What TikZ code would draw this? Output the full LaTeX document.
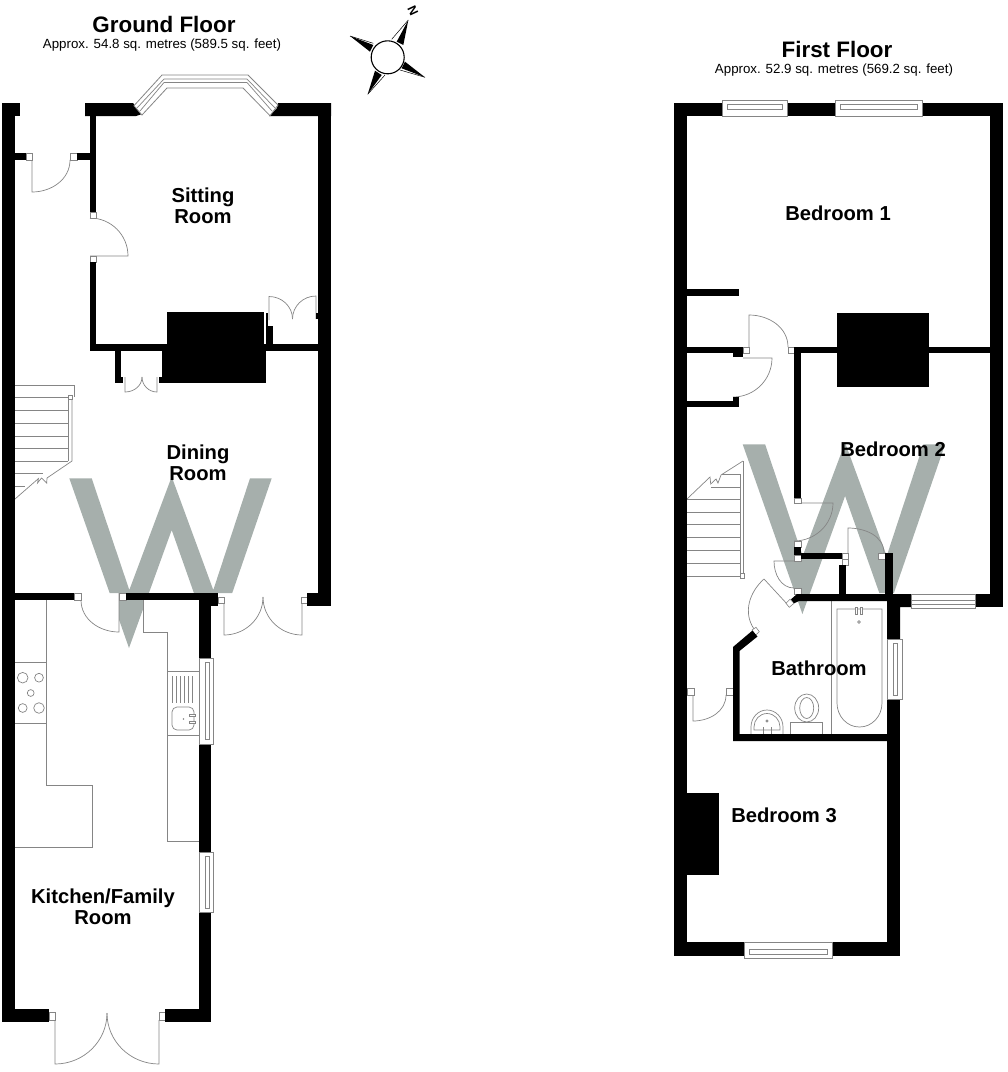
\documentclass[tikz,border=0pt]{standalone}
\usepackage{tikz}
\usepackage{xcolor}
\usepackage{fontspec}
\setmainfont{Liberation Sans}
\definecolor{markcolor}{HTML}{a6afac}
\definecolor{linecolor}{HTML}{858585}
\tikzset{
    wall/.style = {fill = black},
    fitting/.style = {draw = linecolor, line width = 0.7pt},
    jamb/.style = {draw = linecolor, fill = white, line width = 0.6pt},
    glass/.style = {draw = linecolor, fill = white, line width = 0.8pt},
    room/.style = {font = \bfseries\fontsize{20.2}{21}\selectfont, align = center},
    floorname/.style = {font = \bfseries\fontsize{22.4}{24}\selectfont},
    floorarea/.style = {font = \fontsize{13.3}{15}\selectfont}
}

\begin{document}
\begin{tikzpicture}[x = 1pt, y = -1pt]

        \useasboundingbox (0, 0) rectangle (1008, 1072);

        % Watermark
        \begin{scope}
            \clip (0, 0) rectangle (1008, 593) (119, 593) rectangle (143, 660);
            \fill [markcolor] (69.3, 478.3) -- (91.7, 478.3) -- (129.3, 590) -- (171.7, 476.7) -- (213.3, 590) -- (250, 478.3) -- (271.7, 478.3) -- (213.3, 648) -- (171.7, 530) -- (129, 648) -- cycle;
        \end{scope}
        \begin{scope}
            \clip (0, 0) rectangle (1008, 593) (790, 593) rectangle (815, 660);
            \fill [markcolor] (742.7, 444.3) -- (765.1, 444.3) -- (802.7, 556) -- (845.1, 442.7) -- (886.7, 556) -- (923.4, 444.3) -- (945.1, 444.3) -- (886.7, 614) -- (845.1, 496) -- (802.4, 614) -- cycle;
        \end{scope}

        % Ground Floor fittings
        \draw [fitting] (15, 385) -- (74, 385) -- (74, 397);
        \draw [fitting] (15, 397) -- (68, 397);
        \draw [fitting] (15, 410) -- (68, 410);
        \draw [fitting] (15, 423) -- (68, 423);
        \draw [fitting] (15, 436) -- (68, 436);
        \draw [fitting] (15, 448) -- (68, 448);
        \draw [fitting] (15, 461) -- (68, 461);
        \draw [fitting] (15, 473) -- (43, 473);
        \draw [fitting] (15, 486) -- (25, 486);
        \draw [fitting] (68, 397) -- (68, 461);
        \draw [fitting] (72, 397) -- (72, 461) -- (47, 478) -- (46.7, 483) -- (41.5, 478) -- (37.5, 483) -- (38.5, 478.5) -- (15, 499);
        \draw [jamb] (68, 395) rectangle (72, 399);

        \draw [fitting] (46.5, 600) -- (46.5, 785) -- (92, 785) -- (92, 847) -- (15, 847);
        \draw [fitting] (15, 662) -- (46.5, 662);
        \draw [fitting] (15, 723) -- (46.5, 723);
        \draw [fitting] (22.7, 677.7) circle [radius = 5.3pt];
        \draw [fitting] (39, 677.7) circle [radius = 4.4pt];
        \draw [fitting] (30.7, 693) circle [radius = 3.4pt];
        \draw [fitting] (22.7, 708) circle [radius = 4.4pt];
        \draw [fitting] (39, 708) circle [radius = 5.3pt];

        \draw [fitting] (143, 600) -- (143, 632) -- (167, 632) -- (167, 841) -- (199, 841);
        \draw [fitting] (167, 671) -- (199, 671);
        \draw [fitting] (167, 735) -- (199, 735);
        \draw [fitting] (172, 676) -- (172, 703);
        \draw [fitting] (176, 676) -- (176, 703);
        \draw [fitting] (180, 676) -- (180, 703);
        \draw [fitting] (184, 676) -- (184, 703);
        \draw [fitting] (188, 676) -- (188, 703);
        \draw [fitting] (192, 676) -- (192, 703);
        \draw [fitting, rounded corners = 5pt] (172, 707) rectangle (194, 730);
        \draw [jamb] (189, 714) rectangle (195, 716.5);
        \draw [jamb] (189, 721) rectangle (195, 723.5);
        \fill [linecolor] (183.5, 719) circle [radius = 0.9pt];

        % Ground Floor doors
        \draw [fitting] (32, 160) -- (32, 192) to [out = 0, in = 270] (70, 160);
        \draw [fitting] (90, 256) -- (128, 256) to [out = 90, in = 0] (90, 218);
        \draw [fitting] (269, 320) -- (269, 296.5) to [out = 0, in = 90] (292.5, 319);
        \draw [fitting] (316, 319) -- (316, 296) to [out = 180, in = 90] (292.5, 319);
        \draw [fitting] (125, 377) -- (125, 392) to [out = 0, in = 270] (142, 377);
        \draw [fitting] (157, 377) -- (157, 392) to [out = 180, in = 270] (142, 377);
        \draw [fitting] (119, 593) -- (119, 632) to [out = 180, in = 270] (81, 600);
        \draw [fitting] (224, 603) -- (224, 635) to [out = 0, in = 270] (263, 597);
        \draw [fitting] (302, 603) -- (302, 635) to [out = 180, in = 270] (263, 597);
        \draw [fitting] (55, 1020) -- (55, 1064) to [out = 0, in = 270] (107, 1013);
        \draw [fitting] (159, 1020) -- (159, 1064) to [out = 180, in = 270] (107, 1013);

        \draw [jamb] (26, 153) rectangle (32, 160);
        \draw [jamb] (70, 153) rectangle (77, 160);
        \draw [jamb] (90, 212) rectangle (96, 218);
        \draw [jamb] (90, 256) rectangle (96, 262);
        \draw [jamb] (74, 593) rectangle (81, 600);
        \draw [jamb] (119, 593) rectangle (126, 600);
        \draw [jamb] (218, 597) rectangle (224, 603);
        \draw [jamb] (301, 597) rectangle (307, 603);
        \draw [jamb] (49, 1012) rectangle (55, 1020);
        \draw [jamb] (159, 1012) rectangle (165, 1020);

        % Ground Floor walls
        \fill [wall] (2, 103) rectangle (15, 1022);
        \fill [wall] (2, 103) rectangle (20, 116);
        \fill [wall] (85, 103) -- (133, 103) -- (142, 114) -- (136, 116) -- (85, 116) -- cycle;
        \fill [wall] (90, 116) rectangle (96, 212);
        \fill [wall] (90, 262) rectangle (96, 351);
        \fill [wall] (15, 153) rectangle (26, 160);
        \fill [wall] (77, 153) rectangle (90, 160);
        \fill [wall] (278, 103) -- (331, 103) -- (331, 116) -- (269, 116) -- (277, 108) -- cycle;
        \fill [wall] (318, 103) rectangle (331, 606);
        \fill [wall] (307, 593) rectangle (331, 606);
        \fill [wall] (90, 344) rectangle (318, 351);
        \fill [wall] (167, 312) rectangle (264, 351);
        \fill [wall] (162, 351) rectangle (266, 377);
        \fill [wall] (167, 351) rectangle (266, 383);
        \fill [wall] (266, 313) rectangle (268, 344);
        \fill [wall] (267, 326) rectangle (273, 344);
        \fill [wall] (316, 313) rectangle (318, 319);
        \fill [wall] (115, 351) rectangle (121, 383);
        \fill [wall] (115, 377) rectangle (123, 383);
        \fill [wall] (159, 377) rectangle (167, 383);
        \fill [wall] (15, 593) rectangle (74, 600);
        \fill [wall] (126, 593) rectangle (218, 600);
        \fill [wall] (199, 593) rectangle (218, 606);
        \fill [wall] (199, 600) rectangle (211, 658);
        \fill [wall] (199, 744) rectangle (211, 852);
        \fill [wall] (199, 912) rectangle (211, 1022);
        \fill [wall] (2, 1009) rectangle (49, 1022);
        \fill [wall] (165, 1009) rectangle (211, 1022);

        % Ground Floor windows
        \draw [glass] (134, 105.7) -- (162, 75) -- (248, 75) -- (278, 105) -- (270, 115.7) -- (243, 88) -- (167, 88) -- (142, 115) -- cycle;
        \draw [fitting] (137, 108) -- (164, 79) -- (247, 79) -- (275, 108);
        \draw [fitting] (140, 111) -- (164, 82.5) -- (247, 82.5) -- (272, 111);
        \draw [glass] (199, 658) rectangle (213.3, 744);
        \draw [glass] (205, 662) rectangle (209.3, 739);
        \draw [glass] (199, 852) rectangle (213.3, 912);
        \draw [glass] (205, 856) rectangle (209.3, 908);

        % First Floor fittings
        \draw [fitting] (687, 499) -- (710, 477) -- (710.7, 484) -- (716, 479) -- (718, 483) -- (721, 475) -- (743, 461);
        \draw [fitting] (743, 461) -- (743, 575);
        \draw [fitting] (740, 474) -- (740, 575);
        \draw [fitting] (722, 474) -- (740, 474);
        \draw [fitting] (711, 487) -- (740, 487);
        \draw [fitting] (687, 499) -- (740, 499);
        \draw [fitting] (687, 512) -- (740, 512);
        \draw [fitting] (687, 524) -- (740, 524);
        \draw [fitting] (687, 537) -- (740, 537);
        \draw [fitting] (687, 550) -- (740, 550);
        \draw [fitting] (687, 563) -- (740, 563);
        \draw [fitting] (687, 576) -- (740, 576);
        \draw [jamb] (740, 573) rectangle (744, 578);

        % Bathroom
        \draw [fitting] (831, 600) -- (831, 734);
        \draw [fitting] (837, 703) -- (837, 609) -- (882, 609) -- (882, 703) to [out = 270, in = 0] (859.5, 727) to [out = 180, in = 270] (837, 703);
        \draw [jamb] (855, 607) rectangle (857, 614);
        \draw [jamb] (860.7, 607) rectangle (862.7, 614);
        \draw [fitting] (859, 622) circle [radius = 1.3pt];
        \draw [fitting] (790.7, 722.7) rectangle (822.7, 734);
        \draw [fitting, fill = white] (806.7, 708) ellipse [x radius = 12pt, y radius = 14pt];
        \draw [fitting] (806.7, 708) ellipse [x radius = 7pt, y radius = 10.5pt];
        \draw [fitting] (751, 734) -- (751, 727) to [out = 90, in = 180] (767, 710) to [out = 0, in = 90] (783, 727) -- (783, 734);
        \draw [fitting] (754, 730) -- (754, 727) to [out = 90, in = 180] (767, 713.5) to [out = 0, in = 90] (780, 727) -- (780, 730) -- cycle;
        \draw [fitting] (763, 727) -- (763, 734);
        \draw [fitting] (771, 727) -- (771, 734);
        \draw [fitting] (767, 721) circle [radius = 1.1pt];

        % First Floor doors
        \draw [fitting] (749, 347) -- (749, 315) to [out = 0, in = 90] (788, 347);
        \draw [fitting] (743, 358) -- (772, 358) to [out = 270, in = 0] (733, 397);
        \draw [fitting] (801, 503) -- (833, 503) to [out = 270, in = 0] (794, 541);
        \draw [fitting] (848, 553) -- (848, 528) to [out = 0, in = 90] (884, 553);
        \draw [fitting] (794, 561) -- (774, 561) to [out = 270, in = 180] (794, 588);
        \draw [fitting] (788, 605) -- (764, 579) to [out = 222, in = 124] (754, 629);
        \draw [fitting] (693, 695) -- (693, 721) to [out = 0, in = 270] (726, 695);

        \draw [jamb] (788, 347) rectangle (794, 353);
        \draw [jamb] (743, 347) rectangle (749, 353);
        \draw [jamb] (794, 498) rectangle (801, 503);
        \draw [jamb] (794, 541) rectangle (801, 547);
        \draw [jamb] (794, 555) rectangle (801, 561);
        \draw [jamb] (794, 588) rectangle (801, 594);
        \draw [jamb] (842, 553) rectangle (848, 559);
        \draw [jamb] (842, 559) rectangle (848, 565);
        \draw [jamb] (878, 553) rectangle (885, 559);
        \draw [jamb] (687, 688) rectangle (694, 695);
        \draw [jamb] (726, 688) rectangle (733, 695);
        \draw [jamb] (786, 603.3) -- (790, 599.3) -- (794, 603.3) -- (789.3, 607.3) -- cycle;
        \draw [jamb] (752, 630) -- (756, 627.3) -- (759.3, 631.7) -- (755, 635.7) -- cycle;

        % First Floor walls
        \fill [wall] (674, 103) rectangle (687, 956);
        \fill [wall] (674, 103) rectangle (1003, 116);
        \fill [wall] (990, 103) rectangle (1003, 607);
        \fill [wall] (975, 594) rectangle (1003, 607);
        \fill [wall] (687, 289) rectangle (739, 296);
        \fill [wall] (687, 347) rectangle (743, 353);
        \fill [wall] (733, 353) rectangle (743, 357);
        \fill [wall] (687, 401) rectangle (739, 407);
        \fill [wall] (733, 397) rectangle (739, 401);
        \fill [wall] (794, 347) rectangle (990, 353);
        \fill [wall] (837, 313) rectangle (929, 387);
        \fill [wall] (794, 347) rectangle (801, 498);
        \fill [wall] (794, 547) rectangle (801, 555);
        \fill [wall] (801, 553) rectangle (842, 559);
        \fill [wall] (839, 565) rectangle (846, 595);
        \fill [wall] (885, 553) rectangle (893, 595);
        \fill [wall] (797, 594) -- (911, 594) -- (911, 607) -- (900, 607) -- (900, 639) -- (887, 639) -- (887, 601) -- (799, 601) -- (794, 603.3) -- (791, 599.3) -- cycle;
        \fill [wall] (887, 699) rectangle (900, 956);
        \fill [wall] (752.5, 630.5) -- (733, 647) -- (733, 741) -- (887, 741) -- (887, 734) -- (739.5, 734) -- (739.5, 651) -- (757.5, 636.5) -- cycle;
        \fill [wall] (687, 793) rectangle (719, 875);
        \fill [wall] (674, 942) rectangle (744, 956);
        \fill [wall] (832, 942) rectangle (900, 956);

        % First Floor windows
        \draw [glass] (722, 100.7) rectangle (787, 116);
        \draw [glass] (727, 104) rectangle (782, 109);
        \draw [glass] (835, 100.7) rectangle (922, 116);
        \draw [glass] (840, 104) rectangle (917, 109);
        \draw [glass] (911, 594) rectangle (975, 608.5);
        \draw [glass] (911, 600) rectangle (975, 604);
        \draw [glass] (887, 639) rectangle (902, 699);
        \draw [glass] (893, 643) rectangle (897, 695);
        \draw [glass] (744, 942) rectangle (832, 958);
        \draw [glass] (749, 949) rectangle (827, 954);

        % Compass
        \fill [black] (408.3, 20) -- (403.3, 45) -- (396.7, 41.7) -- cycle;
        \fill [black] (425, 77.3) -- (405, 61.7) -- (401.7, 68.3) -- cycle;
        \fill [black] (367.7, 94.3) -- (375, 70.7) -- (381.7, 75) -- cycle;
        \fill [black] (350, 36) -- (373.3, 45) -- (370, 51.7) -- cycle;
        \draw [line width = 0.5pt] (408.3, 20) -- (391.7, 39.3);
        \draw [line width = 0.5pt] (425, 77.3) -- (400, 70);
        \draw [line width = 0.5pt] (367.7, 94.3) -- (385, 75);
        \draw [line width = 0.5pt] (350, 36) -- (373.3, 43.3);
        \draw [fill = white, line width = 1.1pt] (387.7, 57.3) circle [radius = 16.5pt];
        \node [font = \bfseries\fontsize{12.5}{12.5}\selectfont, rotate = -65, inner sep = 0pt] (north) at (413, 11) {N};

        % Titles
        \node [floorname] (groundtitle) at (164, 24) {Ground Floor};
        \node [floorarea] (groundarea) at (162, 45) {Approx. 54.8 sq. metres (589.5 sq. feet)};
        \node [floorname] (firsttitle) at (837, 49) {First Floor};
        \node [floorarea] (firstarea) at (834, 70) {Approx. 52.9 sq. metres (569.2 sq. feet)};

        % Rooms
        \node [room] (sitting) at (203, 205.5) {Sitting\\Room};
        \node [room] (dining) at (198, 463) {Dining\\Room};
        \node [room] (kitchen) at (103, 906.5) {Kitchen/Family\\Room};
        \node [room] (bedone) at (838, 213) {Bedroom 1};
        \node [room] (bedtwo) at (893, 449) {Bedroom 2};
        \node [room] (bath) at (819, 668) {Bathroom};
        \node [room] (bedthree) at (784, 815) {Bedroom 3};

    \end{tikzpicture}
\end{document}
